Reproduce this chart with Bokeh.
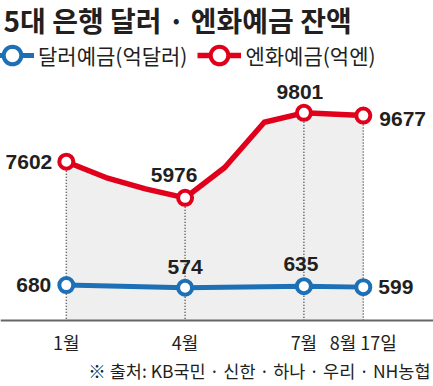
from bokeh.plotting import figure
from bokeh.models import Range1d, Label, Legend, LegendItem, ColumnDataSource, Span
from bokeh.core.properties import value
from bokeh.embed import file_html
from bokeh.resources import INLINE

# ---------------- data ----------------
title_text = "5대 은행 달러 · 엔화예금 잔액"
legend_usd = "달러예금(억달러)"
legend_jpy = "엔화예금(억엔)"
source_note = "※ 출처: KB국민 · 신한 · 하나 · 우리 · NH농협"

tick_months = [1, 4, 7, 8.5]
tick_labels = ["1월", "4월", "7월", "8월 17일"]

# monthly yen deposits (억엔), last point = Aug 17
jpy_months = [1, 2, 3, 4, 5, 6, 7, 8.5]
jpy_values = [7602, 6890, 6380, 5976, 7340, 9380, 9801, 9677]

key_months = [1, 4, 7, 8.5]
jpy_key = [7602, 5976, 9801, 9677]
usd_key = [680, 574, 635, 599]

# ---------------- style / layout ----------------
W, H = 433, 386
RED = "#e1001b"
BLUE = "#1d6fb6"
INK = "#231f20"
KR = "Noto Sans CJK KR"
NUM = "Liberation Sans"

JPY_BASE = 456.5  # red-scale value at the baseline

p = figure(width=W, height=H, output_backend="svg", toolbar_location=None,
           title=None, x_range=Range1d(0, W), y_range=Range1d(H, 0),
           x_axis_type=None, y_axis_type=None, min_border=0,
           outline_line_color=None)
p.background_fill_color = "white"
p.border_fill_color = "white"
p.extra_x_ranges = {"m": Range1d(-0.6616, 10.2727)}
p.extra_y_ranges = {"jpy": Range1d(-2513.5, 14856.5),
                    "usd": Range1d(-3376, 12064)}

# grey area under yen line
p.varea(x=jpy_months, y1=[JPY_BASE] * len(jpy_months), y2=jpy_values,
        fill_color="#efefef", x_range_name="m", y_range_name="jpy")

# dotted drop lines
p.segment(x0=key_months, y0=jpy_key, x1=key_months, y1=[JPY_BASE] * len(key_months),
          line_color="#444444", line_width=1.5, line_dash="1 2",
          x_range_name="m", y_range_name="jpy")

# baseline
p.add_layout(Span(location=320, dimension="width", line_color="#666666", line_width=2))

# yen line
r_jl = p.line(jpy_months, jpy_values, line_color=RED, line_width=5.5,
              line_join="round", x_range_name="m", y_range_name="jpy")
r_jp = p.scatter(key_months, jpy_key, size=14, fill_color="white", line_color=RED,
                 line_width=4, x_range_name="m", y_range_name="jpy")

# dollar line
r_ul = p.line(key_months, usd_key, line_color=BLUE, line_width=5,
              line_join="round", x_range_name="m", y_range_name="usd")
r_up = p.scatter(key_months, usd_key, size=14, fill_color="white", line_color=BLUE,
                 line_width=4, x_range_name="m", y_range_name="usd")

# value labels
jpy_lab = ColumnDataSource(dict(
    x=key_months, y=jpy_key, t=[str(v) for v in jpy_key],
    dx=[-14, -11, -4, 16], dy=[0, -23, -21, 3],
    al=["right", "center", "center", "left"]))
p.text(x="x", y="y", text="t", x_offset="dx", y_offset="dy", text_align="al",
       text_baseline="middle", text_font=value(NUM), text_font_style="bold",
       text_font_size="21px", text_color=INK, source=jpy_lab,
       x_range_name="m", y_range_name="jpy")

usd_lab = ColumnDataSource(dict(
    x=key_months, y=usd_key, t=[str(v) for v in usd_key],
    dx=[-15, 0, -3, 15], dy=[0, -21, -22, 0],
    al=["right", "center", "center", "left"]))
p.text(x="x", y="y", text="t", x_offset="dx", y_offset="dy", text_align="al",
       text_baseline="middle", text_font=value(NUM), text_font_style="bold",
       text_font_size="21px", text_color=INK, source=usd_lab,
       x_range_name="m", y_range_name="usd")

# x tick labels
p.text(x=tick_months, y=[JPY_BASE] * len(tick_months), text=tick_labels,
       y_offset=21, text_align="center", text_baseline="middle",
       text_font=value(KR), text_font_size="18px", text_color=INK,
       x_range_name="m", y_range_name="jpy")

# title and source
p.add_layout(Label(x=3, y=19, text=title_text, text_align="left", text_baseline="middle",
                   text_font=KR, text_font_style="bold", text_font_size="28px",
                   text_color=INK))
p.add_layout(Label(x=430, y=370, text=source_note, text_align="right",
                   text_baseline="middle", text_font=KR, text_font_size="17.5px",
                   text_color=INK))

# legend
legend = Legend(items=[LegendItem(label=legend_usd, renderers=[r_ul, r_up]),
                       LegendItem(label=legend_jpy, renderers=[r_jl, r_jp])],
                orientation="horizontal", location=(-10, 309), padding=0, margin=0,
                spacing=10, glyph_width=44, glyph_height=44, label_standoff=4,
                label_text_font=KR, label_text_font_size="21px",
                label_text_color=INK, border_line_color=None,
                background_fill_alpha=0)
p.add_layout(legend)

open("out.html", "w").write(file_html(p, INLINE))
